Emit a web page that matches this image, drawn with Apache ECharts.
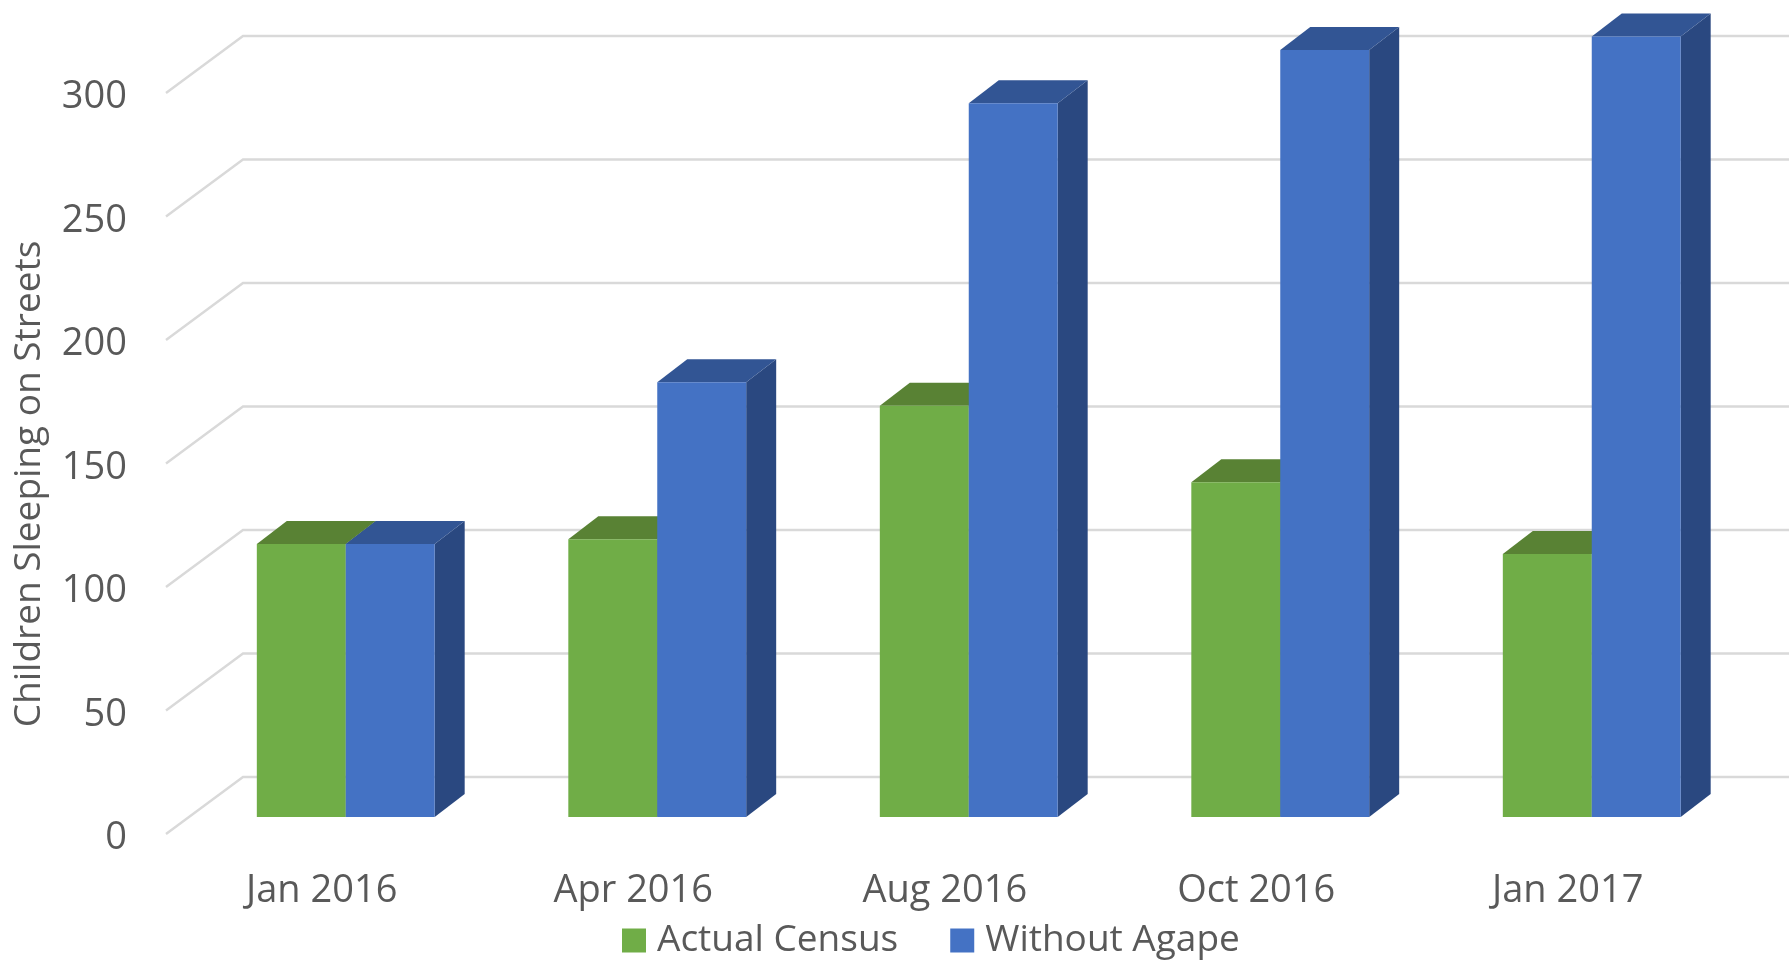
<!DOCTYPE html>
<html>
<head>
<meta charset="utf-8">
<style>html,body{margin:0;padding:0;background:#fff;}#c{width:1789px;height:962px;}</style>
<script src="https://cdn.jsdelivr.net/npm/echarts@6/dist/echarts.min.js"></script>
</head>
<body>
<div id="c"></div>
<script>
const categories = ['Jan 2016', 'Apr 2016', 'Aug 2016', 'Oct 2016', 'Jan 2017'];
const actualCensus = [110.5, 112.5, 166.5, 135.5, 106.5];
const withoutAgape = [110.5, 176, 289, 310.5, 316];
const yTicks = [0, 50, 100, 150, 200, 250, 300];

const FONT = '"Open Sans", sans-serif';
const TEXT = '#595959';
const chart = echarts.init(document.getElementById('c'), null, {renderer: 'canvas'});

function barSeries(name, values, side, front, top, sideCol) {
  return {
    name: name,
    type: 'custom',
    coordinateSystem: 'cartesian2d',
    itemStyle: {color: front},
    encode: {x: 0, y: 1},
    data: values.map((v, i) => [i, v]),
    renderItem: function (params, api) {
      const idx = api.value(0), v = api.value(1);
      const base = api.coord([idx, 0]);
      const tip = api.coord([idx, v]);
      const band = api.size([1, 0])[0];
      const w = band * 0.2855;
      const dx = 24, lift = 17, ddx = 30, ddy = 23;
      const x0 = base[0] + dx + (side === 0 ? -w : 0);
      const x1 = x0 + w;
      const yb = base[1] - lift, yt = tip[1] - lift;
      return {
        type: 'group',
        children: [
          {type: 'polygon', shape: {points: [[x1, yb], [x1 + ddx, yb - ddy], [x1 + ddx, yt - ddy], [x1, yt]]}, style: {fill: sideCol}},
          {type: 'polygon', shape: {points: [[x0, yt], [x0 + ddx, yt - ddy], [x1 + ddx, yt - ddy], [x1, yt]]}, style: {fill: top}},
          {type: 'rect', shape: {x: x0, y: yt, width: w, height: yb - yt}, style: {fill: front}}
        ]
      };
    }
  };
}

chart.setOption({
  animation: false,
  backgroundColor: '#ffffff',
  grid: {left: 166, top: 93, width: 1557.5, height: 741, outerBoundsMode: 'none', containLabel: false},
  legend: {
    data: ['Actual Census', 'Without Agape'],
    left: 617, top: 917,
    icon: 'rect', itemWidth: 24, itemHeight: 24, itemGap: 52,
    textStyle: {fontFamily: FONT, fontSize: 37, color: TEXT, padding: [0, 0, 0, 6]}
  },
  xAxis: {
    type: 'category',
    data: categories,
    axisLine: {show: false},
    axisTick: {show: false},
    splitLine: {show: false},
    axisLabel: {fontFamily: FONT, fontSize: 38, color: TEXT, margin: 38, interval: 0}
  },
  yAxis: {
    type: 'value',
    min: 0, max: 300, interval: 50,
    name: 'Children Sleeping on Streets',
    nameLocation: 'middle',
    nameGap: 118,
    nameRotate: 90,
    nameTextStyle: {fontFamily: FONT, fontSize: 37, color: TEXT, padding: [0, 41, 0, 0]},
    axisLine: {show: false},
    axisTick: {show: false},
    splitLine: {show: false},
    axisLabel: {fontFamily: FONT, fontSize: 38, color: TEXT, margin: 39, verticalAlign: 'top', lineHeight: 9}
  },
  series: [
    {
      name: 'Gridlines',
      type: 'custom',
      coordinateSystem: 'cartesian2d',
      encode: {x: 0, y: 1},
      data: yTicks.map(v => [0, v]),
      renderItem: function (params, api) {
        const y = api.coord([0, api.value(1)])[1];
        const x = params.coordSys.x;
        return {
          type: 'polyline',
          shape: {points: [[x, y], [x + 77, y - 57], [api.getWidth(), y - 57]]},
          style: {stroke: '#D9D9D9', lineWidth: 2.4, fill: 'none'}
        };
      }
    },
    barSeries('Actual Census', actualCensus, 0, '#70AD47', '#598234', '#4A6F2E'),
    barSeries('Without Agape', withoutAgape, 1, '#4472C4', '#325594', '#2A4880')
  ]
});
</script>
</body>
</html>
